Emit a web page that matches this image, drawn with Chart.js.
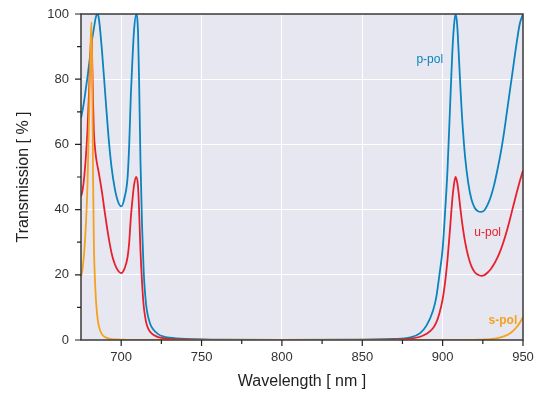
<!DOCTYPE html>
<html>
<head>
<meta charset="utf-8">
<script src="https://cdn.jsdelivr.net/npm/chart.js@4"></script>
<style>
  body { margin: 0; background: #fff; }
  canvas { display: block; }
</style>
</head>
<body>
<canvas id="myChart" width="544" height="397"></canvas>
<script>
const ctx = document.querySelector('#myChart').getContext('2d');

// wavelength grid [nm]
const wavelength = [
    675, 676, 677, 678, 679, 680, 681, 681.5, 682, 682.5, 683, 684, 685, 686, 688, 690,
    692, 694, 696, 698, 700, 702, 704, 705, 706, 707, 708, 709.4, 710.5, 711.2, 712, 713,
    714, 715, 716, 718, 720, 723, 726, 730, 740, 760, 800, 840, 870, 880, 886, 890, 894,
    896, 898, 900, 901.5, 903, 904.5, 906, 907, 908, 909, 910, 911, 912, 914, 916, 918,
    920, 922, 924, 926, 928, 930, 932, 934, 936, 938, 940, 942, 944, 946, 948, 950,
];

const pPol = [
    68, 70.5, 73.5, 77, 80.5, 84.5, 88.5, 90.5, 92.5, 94, 95.5, 98.5, 100, 99, 89, 76,
    63, 53, 46.5, 42.5, 41, 43.5, 50, 60, 75, 86, 95, 100, 94, 78, 55, 35,
    21, 13.5, 9, 5, 3.2, 1.8, 1.1, 0.7, 0.3, 0.12, 0.05, 0.08, 0.3, 0.8, 2.1, 4.5, 9,
    13, 20, 28, 39, 52, 70, 88, 96, 100, 97, 88, 78, 69, 56, 48, 43,
    40.5, 39.5, 39.3, 39.8, 41.5, 44, 47.5, 52, 57, 63, 70, 77, 84, 91, 97, 100,
];

const uPol = [
    44, 46, 50, 56, 64, 76, 90, 94, 85, 73, 64, 57.5, 54, 51.5, 45.5, 38.5,
    32, 26.7, 23.3, 21.3, 20.5, 21.8, 25.5, 30, 37.5, 43, 47.5, 50, 47, 39, 27.5, 17.5,
    10.5, 6.8, 4.5, 2.5, 1.6, 0.9, 0.55, 0.35, 0.15, 0.06, 0.03, 0.04, 0.15, 0.4, 1.0, 1.9, 3.6,
    5.3, 8.2, 12.5, 17.5, 24.5, 33.5, 43, 47.5, 50, 48.5, 45, 40.5, 36.5, 30, 25.5, 22.5,
    20.8, 20, 19.7, 19.9, 20.7, 21.8, 23.3, 25.2, 27.5, 30.3, 33.6, 37.3, 41.2, 45, 48.7, 52,
];

const sPol = [
    19.3, 22, 27, 35, 47, 68, 91, 97.5, 80, 50, 30, 15, 8, 4.5, 1.8, 0.9,
    0.5, 0.3, 0.2, 0.15, 0.1, 0.08, 0.05, 0.05, 0.04, 0.04, 0.03, 0.03, 0.03, 0.02, 0.02, 0.02,
    0.02, 0.01, 0.01, 0.01, 0, 0, 0, 0, 0, 0, 0, 0, 0, 0, 0, 0, 0,
    0, 0, 0, 0, 0, 0, 0, 0, 0, 0, 0, 0, 0, 0, 0, 0,
    0.05, 0.08, 0.1, 0.15, 0.2, 0.3, 0.4, 0.6, 0.8, 1.1, 1.5, 2.1, 2.9, 3.9, 5.3, 7,
];

const xTicks = [700, 750, 800, 850, 900, 950];
const yTicks = [0, 20, 40, 60, 80, 100];

const BLUE = '#0a84bc';
const RED = '#e6202c';
const ORANGE = '#f5a11e';
const FONT = '"Liberation Sans", Arial, sans-serif';

const toPoints = (vals) => wavelength.map((w, i) => ({ x: w, y: vals[i] }));

const curveLabels = [
    { text: 'p-pol', x: 892, y: 86, color: BLUE, bold: false },
    { text: 'u-pol', x: 928, y: 33, color: RED, bold: false },
    { text: 's-pol', x: 937.5, y: 6, color: ORANGE, bold: true },
];

// plot background, frame, tick marks and curve labels
const decor = {
    id: 'decor',
    beforeDraw(chart) {
        const { ctx, chartArea: a } = chart;
        ctx.save();
        ctx.fillStyle = '#e7e7f1';
        ctx.fillRect(a.left, a.top, a.right - a.left, a.bottom - a.top);
        ctx.restore();
    },
    afterDraw(chart) {
        const { ctx, chartArea: a, scales } = chart;
        ctx.save();
        ctx.strokeStyle = '#3a3a3a';
        ctx.lineWidth = 1.5;
        ctx.strokeRect(a.left, a.top, a.right - a.left, a.bottom - a.top);

        ctx.strokeStyle = '#222';
        ctx.lineWidth = 1.2;
        ctx.beginPath();
        scales.x.ticks.forEach(t => {
            if (t.value === 675) return;
            const px = scales.x.getPixelForValue(t.value);
            const len = xTicks.includes(t.value) ? 6 : 4;
            ctx.moveTo(px, a.bottom);
            ctx.lineTo(px, a.bottom + len);
        });
        scales.y.ticks.forEach(t => {
            const py = scales.y.getPixelForValue(t.value);
            const len = yTicks.includes(t.value) ? 6 : 4;
            ctx.moveTo(a.left, py);
            ctx.lineTo(a.left - len, py);
        });
        ctx.stroke();

        ctx.textAlign = 'center';
        ctx.textBaseline = 'middle';
        curveLabels.forEach(l => {
            ctx.font = (l.bold ? 'bold ' : '') + '12px ' + FONT;
            ctx.fillStyle = l.color;
            ctx.fillText(l.text, scales.x.getPixelForValue(l.x), scales.y.getPixelForValue(l.y));
        });
        ctx.restore();
    }
};

const data = {
    datasets: [
        { label: 's-pol', data: toPoints(sPol), borderColor: ORANGE },
        { label: 'u-pol', data: toPoints(uPol), borderColor: RED },
        { label: 'p-pol', data: toPoints(pPol), borderColor: BLUE },
    ],
};

const config = {
    type: 'line',
    data: data,
    options: {
        responsive: false,
        animation: false,
        layout: { padding: { left: 0, top: 14, right: 21, bottom: 0 } },
        elements: {
            point: { radius: 0 },
            line: { borderWidth: 1.8, cubicInterpolationMode: 'monotone', fill: false },
        },
        plugins: {
            legend: { display: false },
            tooltip: { enabled: false },
        },
        scales: {
            x: {
                type: 'linear',
                min: 675,
                max: 950,
                afterFit: s => { s.height = 57; s.paddingLeft = 0; s.paddingRight = 0; },
                grid: {
                    drawTicks: false,
                    color: c => (xTicks.includes(c.tick.value) && c.tick.value !== 950 ? '#ffffff' : 'rgba(0,0,0,0)'),
                    lineWidth: 1,
                },
                border: { display: false },
                ticks: {
                    stepSize: 25,
                    autoSkip: false,
                    maxRotation: 0,
                    padding: 10,
                    color: '#333',
                    font: { family: FONT, size: 13 },
                    callback: v => (xTicks.includes(v) ? String(v) : ''),
                },
                title: {
                    display: true,
                    text: 'Wavelength [ nm ]',
                    color: '#222',
                    font: { family: FONT, size: 16 },
                    padding: { top: 0, bottom: 6 },
                },
            },
            y: {
                min: 0,
                max: 100,
                afterFit: s => { s.width = 81; s.paddingTop = 0; s.paddingBottom = 0; },
                grid: {
                    drawTicks: false,
                    color: c => (yTicks.includes(c.tick.value) && c.tick.value % 100 !== 0 ? '#ffffff' : 'rgba(0,0,0,0)'),
                    lineWidth: 1,
                },
                border: { display: false },
                ticks: {
                    stepSize: 10,
                    autoSkip: false,
                    padding: 12,
                    color: '#333',
                    font: { family: FONT, size: 13 },
                    callback: v => (yTicks.includes(v) ? String(v) : ''),
                },
                title: {
                    display: true,
                    text: 'Transmission [ % ]',
                    color: '#222',
                    font: { family: FONT, size: 16 },
                    padding: { top: 14, bottom: 0 },
                },
            },
        },
    },
    plugins: [decor],
};

const myChart = new Chart(ctx, config);
</script>
</body>
</html>
